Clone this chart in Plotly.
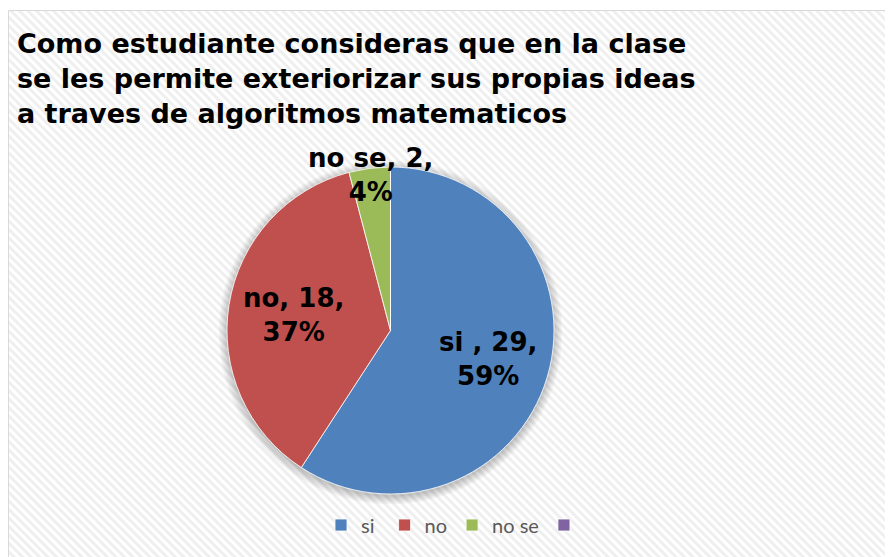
"""Pie chart: student opinion on expressing ideas through math algorithms."""

import base64
import math

import plotly.graph_objects as go

# the page body adds an 8px margin, so the figure is drawn 8px in from the corner
OFFSET = 8
W, H = 893 - OFFSET, 557 - OFFSET

TITLE = (
    "Como estudiante consideras que en la clase<br>"
    "se les permite exteriorizar sus propias ideas<br>"
    "a traves de algoritmos matematicos"
)
labels = ["si ", "no", "no se", " "]
values = [29, 18, 2, 0]
colors = ["#4F81BD", "#C0504D", "#9BBB59", "#8064A2"]
# where each data label sits, as a fraction of the radius (None = no label)
label_radius = [0.62, 0.60, 0.96, None]

LABEL_FONT = {"family": "DejaVu Sans", "size": 26, "color": "#000000", "weight": "bold"}


def px_x(x: float) -> float:
    return (x - OFFSET) / W


def px_y(y: float) -> float:
    return 1 - (y - OFFSET) / H


def _background(width: int, height: int, cx: float, cy: float, r: float) -> str:
    """Diagonal hatch fill plus the soft shadow behind the pie, as a data URI."""
    sr = r + 9
    svg = (
        f'<svg xmlns="http://www.w3.org/2000/svg" width="{width}" height="{height}">'
        '<defs><pattern id="p" patternUnits="userSpaceOnUse" width="6" height="6" '
        'patternTransform="rotate(-45)">'
        '<rect width="6" height="6" fill="#ffffff"/>'
        '<rect width="3" height="6" fill="#efefef"/>'
        "</pattern>"
        f'<radialGradient id="s" cx="{cx}" cy="{cy + 2}" r="{sr}" gradientUnits="userSpaceOnUse">'
        f'<stop offset="{r / sr:.3f}" stop-color="#000" stop-opacity="0.22"/>'
        '<stop offset="1" stop-color="#000" stop-opacity="0"/></radialGradient></defs>'
        f'<rect width="{width}" height="{height}" fill="url(#p)"/>'
        f'<circle cx="{cx}" cy="{cy + 2}" r="{sr}" fill="url(#s)"/>'
        "</svg>"
    )
    return "data:image/svg+xml;base64," + base64.b64encode(svg.encode()).decode()


# pie placement in screen pixels (centre and radius)
cx, cy, r = 390.5, 330.5, 163.5
total = sum(values)

fig = go.Figure(
    go.Pie(
        labels=labels,
        values=values,
        sort=False,
        direction="clockwise",
        rotation=0,
        marker={"colors": colors, "line": {"color": "#ffffff", "width": 0.8}},
        textinfo="none",
        domain={"x": [px_x(cx - r), px_x(cx + r)], "y": [px_y(cy + r), px_y(cy - r)]},
        showlegend=True,
        hoverinfo="label+value+percent",
    )
)

# data labels "label, value, pct" placed along each slice's middle angle
annotations = []
cumulative = 0
for label, value, frac in zip(labels, values, label_radius):
    mid = (cumulative + value / 2) / total * 2 * math.pi
    cumulative += value
    if frac is None:
        continue
    rr = frac * r
    annotations.append(
        {
            "text": f"{label}, {value},<br>{round(100 * value / total)}%",
            "x": px_x(cx + rr * math.sin(mid)),
            "y": px_y(cy - rr * math.cos(mid)),
            "xref": "paper",
            "yref": "paper",
            "xanchor": "center",
            "yanchor": "middle",
            "showarrow": False,
            "font": LABEL_FONT,
        }
    )

fig.update_layout(
    width=W,
    height=H,
    margin={"l": 0, "r": 0, "t": 0, "b": 0},
    paper_bgcolor="#ffffff",
    title={
        "text": TITLE,
        "x": px_x(17),
        "xanchor": "left",
        "y": px_y(53),
        "yanchor": "top",
        "xref": "paper",
        "yref": "paper",
        "pad": {"l": 0, "t": 0},
        "font": {"family": "DejaVu Sans", "size": 27, "color": "#000000", "weight": "bold"},
    },
    legend={
        "orientation": "h",
        "x": px_x(458),
        "xanchor": "center",
        "y": px_y(525),
        "yanchor": "middle",
        "font": {"family": "Lato", "size": 20, "color": "#595959"},
        "bgcolor": "rgba(0,0,0,0)",
        "traceorder": "normal",
    },
    annotations=annotations,
    images=[
        {
            "source": _background(W, H - 2, cx - OFFSET, cy - OFFSET - 2, r),
            "xref": "paper",
            "yref": "paper",
            "x": 0,
            "y": px_y(10),
            "sizex": 1,
            "sizey": (H - 2) / H,
            "sizing": "stretch",
            "xanchor": "left",
            "yanchor": "top",
            "layer": "below",
        }
    ],
    shapes=[
        {
            "type": "rect",
            "xref": "paper",
            "yref": "paper",
            "x0": 0.5 / W,
            "x1": 1.01,
            "y0": -0.01,
            "y1": px_y(10.5),
            "line": {"color": "#d9d9d9", "width": 1},
            "fillcolor": "rgba(0,0,0,0)",
            "layer": "below",
        }
    ],
)

fig.write_html("out.html")
